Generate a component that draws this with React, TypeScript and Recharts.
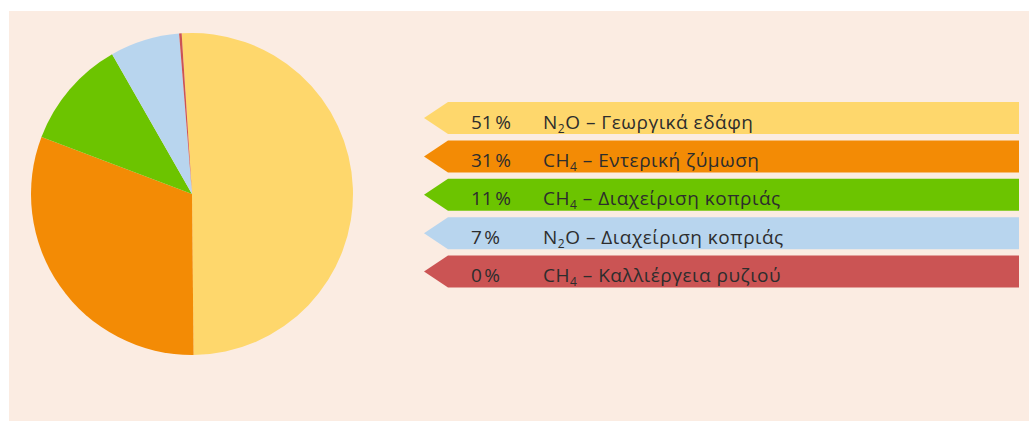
import React from 'react';
import { PieChart, Pie, Cell, Legend } from 'recharts';

const categories = ['N2O – Γεωργικά εδάφη', 'CH4 – Εντερική ζύμωση', 'CH4 – Διαχείριση κοπριάς', 'N2O – Διαχείριση κοπριάς', 'CH4 – Καλλιέργεια ρυζιού'];
const gases = ['N', 'CH', 'CH', 'N', 'CH'];
const gasSub = ['2', '4', '4', '2', '4'];
const gasTail = ['O', '', '', 'O', ''];
const descriptions = ['Γεωργικά εδάφη', 'Εντερική ζύμωση', 'Διαχείριση κοπριάς', 'Διαχείριση κοπριάς', 'Καλλιέργεια ρυζιού'];
const values = [51, 31, 11, 7, 0.25];
const percentLabels = ['51\u202F%', '31\u202F%', '11\u202F%', '7\u202F%', '0\u202F%'];
const colors = ['#FED76C', '#F38B05', '#6CC400', '#B8D5EE', '#CB5454'];

const data = categories.map((name, i) => ({ name, value: values[i] }));

const ROW_H = 32;
const ROW_PITCH = 38.4;
const LEG_W = 595;
const NOTCH = 24;
const FONT = "'Open Sans', sans-serif";

const renderLegend = () => (
  <svg width={LEG_W + 2} height={ROW_PITCH * 5} style={{ display: 'block' }}>
    {categories.map((c, i) => {
      const y = i * ROW_PITCH;
      const pts = `0,${y + ROW_H / 2} ${NOTCH},${y} ${LEG_W},${y} ${LEG_W},${y + ROW_H} ${NOTCH},${y + ROW_H}`;
      return (
        <g key={c}>
          <polygon points={pts} fill={colors[i]} />
          <text x={47} y={y + 26.6} fontFamily={FONT} fontSize={19} letterSpacing={0.3} fill="#2d2d2d">
            {percentLabels[i]}
          </text>
          <text x={119} y={y + 26.6} fontFamily={FONT} fontSize={19} letterSpacing={0.5} fill="#2d2d2d">
            {gases[i]}
            <tspan fontSize={12} dy={4}>{gasSub[i]}</tspan>
            <tspan dy={-4}>{gasTail[i]}{' – '}{descriptions[i]}</tspan>
          </text>
        </g>
      );
    })}
  </svg>
);

export default function App() {
  return (
    <div style={{ position: 'absolute', left: 0, top: 0, width: 1030, height: 421, background: '#ffffff', overflow: 'hidden' }}>
      <div style={{ position: 'absolute', left: 9, top: 11, width: 1020, height: 410, background: '#FBECE2' }}>
        <PieChart width={1020} height={410} margin={{ top: 0, right: 0, bottom: 0, left: 0 }}>
          <Pie
            data={data}
            dataKey="value"
            nameKey="name"
            cx={183}
            cy={183}
            outerRadius={161}
            startAngle={93.7}
            endAngle={-266.3}
            stroke="none"
            isAnimationActive={false}
          >
            {data.map((d, i) => (
              <Cell key={d.name} fill={colors[i]} />
            ))}
          </Pie>
          <Legend
            layout="vertical"
            content={renderLegend}
            wrapperStyle={{ position: 'absolute', left: 415, top: 90.7, width: LEG_W + 2 }}
          />
        </PieChart>
      </div>
    </div>
  );
}
